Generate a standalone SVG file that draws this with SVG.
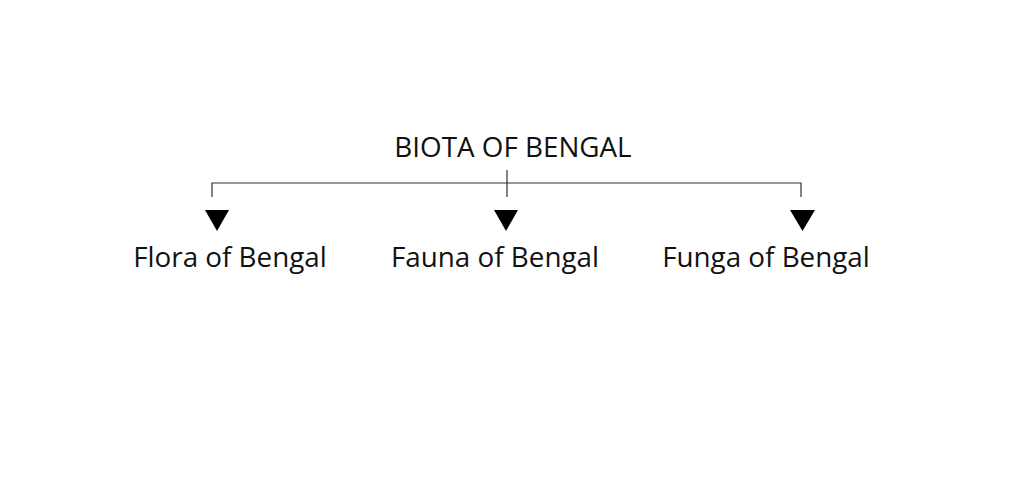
<svg xmlns="http://www.w3.org/2000/svg" width="1024" height="496" viewBox="0 0 1024 496">
<style>
text{font-family:"Open Sans","Noto Sans","Liberation Sans",sans-serif;font-size:27.8px;fill:#111}
.ln{stroke:#333;stroke-width:1.2;fill:none}
.ar{fill:#000}
</style>
<rect width="1024" height="496" fill="#fff"/>
<g id="root"><text x="513" y="157" text-anchor="middle">BIOTA OF BENGAL</text></g>
<g id="connectors">
<path class="ln" d="M212 197V183H801V197M507 170V197"/>
<path class="ar" d="M205 210H229L217 231Z"/>
<path class="ar" d="M494 210H518L506 231Z"/>
<path class="ar" d="M790 210H815L802.5 231Z"/>
</g>
<g id="flora"><text x="230" y="267" text-anchor="middle">Flora of Bengal</text></g>
<g id="fauna"><text x="495" y="267" text-anchor="middle">Fauna of Bengal</text></g>
<g id="funga"><text x="766" y="267" text-anchor="middle">Funga of Bengal</text></g>
</svg>
